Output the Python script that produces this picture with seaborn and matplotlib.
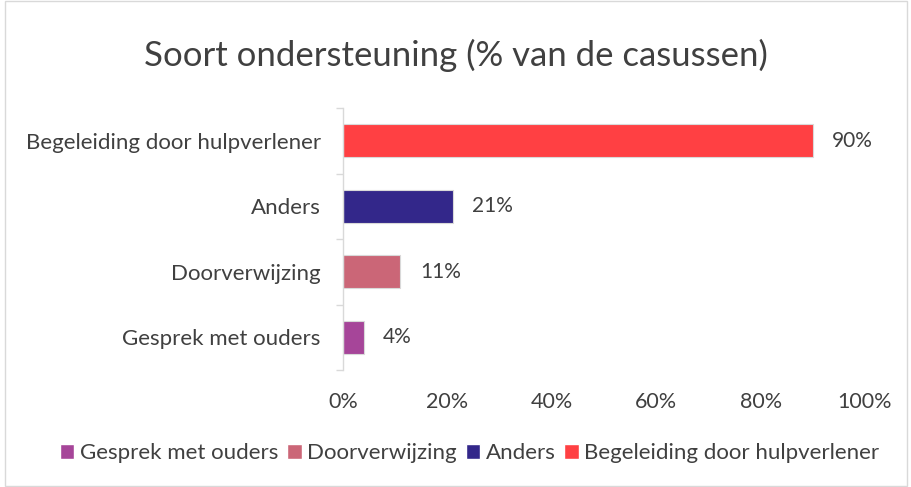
import matplotlib
matplotlib.use("Agg")
import matplotlib.pyplot as plt
import seaborn as sns
import pandas as pd
from matplotlib.patches import Rectangle
from matplotlib.ticker import PercentFormatter, FixedLocator

# data
categories = ["Begeleiding door hulpverlener", "Anders", "Doorverwijzing", "Gesprek met ouders"]
values = [90, 21, 11, 4]
legend_order = ["Gesprek met ouders", "Doorverwijzing", "Anders", "Begeleiding door hulpverlener"]
colors = {
    "Begeleiding door hulpverlener": "#FF4043",
    "Anders": "#33278A",
    "Doorverwijzing": "#CB6677",
    "Gesprek met ouders": "#A64599",
}

df = pd.DataFrame({"soort": categories, "pct": values})

sns.set_theme(style="white")
plt.rcParams["font.family"] = ["Lato", "DejaVu Sans"]
text_col = "#404040"

fig = plt.figure(figsize=(9.12, 4.87), dpi=100)
ax = fig.add_axes([0.376, 0.24, 0.5725, 0.538])

sns.barplot(data=df, y="soort", x="pct", hue="soort", order=categories,
            palette=colors, saturation=1, dodge=False, width=0.5, legend=False,
            edgecolor="#d9d9d9", linewidth=0.8, ax=ax)

for cont, v in zip(ax.containers, values):
    ax.bar_label(cont, labels=[f"{v}%"], padding=14, fontsize=15, color=text_col)

ax.set_xlim(0, 100)
ax.set_ylim(3.5, -0.5)
ax.xaxis.set_major_formatter(PercentFormatter(decimals=0))
ax.set_xticks([0, 20, 40, 60, 80, 100])
ax.set_xlabel("")
ax.set_ylabel("")
ax.tick_params(axis="x", length=0, labelsize=15.5, labelcolor=text_col, pad=16)
ax.tick_params(axis="y", which="major", length=0, labelsize=16, labelcolor=text_col, pad=16)
ax.yaxis.set_minor_locator(FixedLocator([-0.5, 0.5, 1.5, 2.5, 3.5]))
ax.tick_params(axis="y", which="minor", left=True, length=5, color="#d9d9d9", width=1)

for s in ["top", "right", "bottom"]:
    ax.spines[s].set_visible(False)
ax.spines["left"].set_color("#d9d9d9")
ax.spines["left"].set_linewidth(1)

fig.text(0.5, 0.887, "Soort ondersteuning (% van de casussen)", ha="center", va="center",
         fontsize=25, color=text_col)

handles = [Rectangle((0, 0), 1, 1, facecolor=colors[c]) for c in legend_order]
fig.legend(handles, legend_order, loc="center", bbox_to_anchor=(0.515, 0.07), ncol=4,
           frameon=False, fontsize=16, labelcolor=text_col, handlelength=0.65,
           handleheight=0.65, handletextpad=0.25, columnspacing=0.4)

# chart border
fig.patches.append(Rectangle((0.005, 0.003), 0.99, 0.994, transform=fig.transFigure,
                             fill=False, edgecolor="#d9d9d9", linewidth=1))

fig.savefig("out.png", dpi=100)
